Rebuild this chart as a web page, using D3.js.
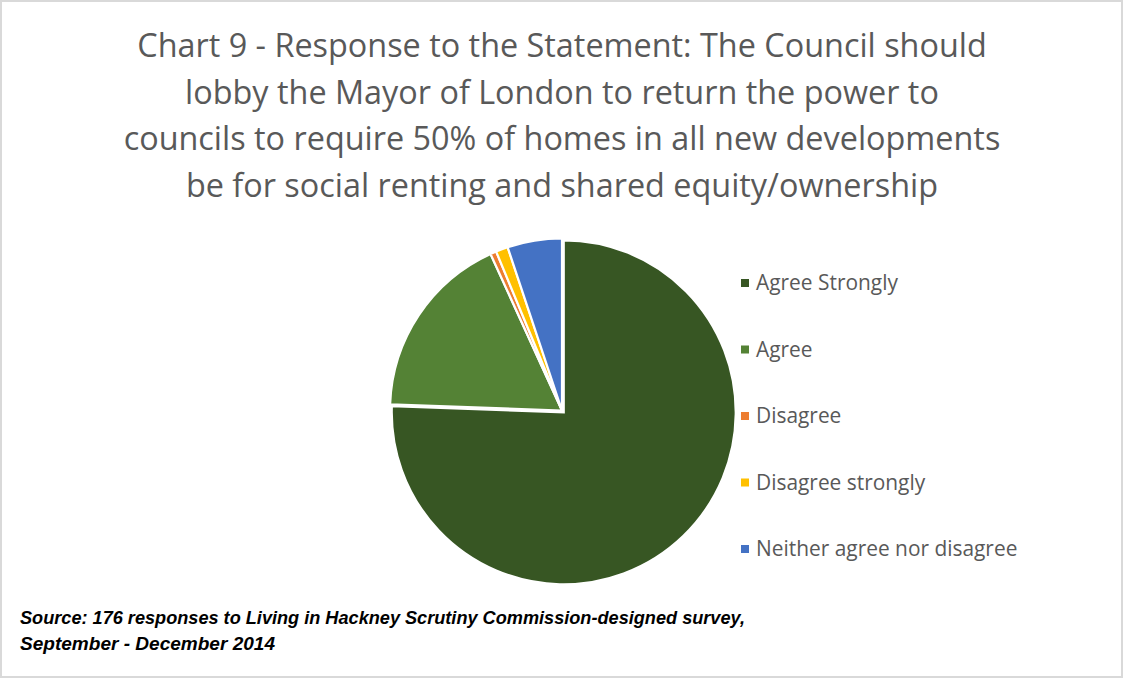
<!DOCTYPE html>
<html>
<head>
<meta charset="utf-8">
<script src="https://cdn.jsdelivr.net/npm/d3@7/dist/d3.min.js"></script>
<style>
  html, body { margin: 0; padding: 0; background: #fff; }
  svg { display: block; }
</style>
</head>
<body>
<svg id="chart" width="1123" height="678"></svg>
<script>
// Survey responses (count of 176)
const categories = ["Agree Strongly", "Agree", "Disagree", "Disagree strongly", "Neither agree nor disagree"];
const responses = [133, 31, 1, 2, 9];
const colours = ["#375623", "#548235", "#ED7D31", "#FFC000", "#4472C4"];

const titleLines = [
  "Chart 9 - Response to the Statement: The Council should",
  "lobby the Mayor of London to return the power to",
  "councils to require 50% of homes in all new developments",
  "be for social renting and shared equity/ownership"
];
const sourceLines = [
  "Source: 176 responses to Living in Hackney Scrutiny Commission-designed survey,",
  "September - December 2014"
];
const sourceWidths = [725, 255];

const W = 1123, H = 678;
const svg = d3.select("#chart");

// chart frame
svg.append("rect")
  .attr("x", 1).attr("y", 1).attr("width", W - 2).attr("height", H - 2)
  .attr("fill", "#fff").attr("stroke", "#D9D9D9").attr("stroke-width", 2);

// title
const titleFont = "Open Sans, sans-serif";
const title = svg.append("g");
title.selectAll("text").data(titleLines).join("text")
  .attr("x", 562)
  .attr("y", (d, i) => 57 + i * 46.7)
  .attr("text-anchor", "middle")
  .attr("fill", "#595959")
  .style("font-family", titleFont)
  .style("font-size", "28px")
  .text(d => d);
// scale the title so the widest line spans its intended width
{
  const n = title.selectAll("text").nodes();
  const w = n[2].getComputedTextLength();
  const fs = 28 * 877 / w;
  title.selectAll("text").style("font-size", fs + "px");
}

// pie
const cx = 562, cy = 410.5, R = 172;
const pie = d3.pie().sort(null).value(d => d)(responses);
const arc = d3.arc().innerRadius(0).outerRadius(R);
const explode = [2.5, 0, 0, 0, 0];

svg.append("g").attr("transform", `translate(${cx},${cy})`)
  .selectAll("path").data(pie).join("path")
  .attr("transform", (d, i) => {
    const a = (d.startAngle + d.endAngle) / 2;
    return `translate(${Math.sin(a) * explode[i]},${-Math.cos(a) * explode[i]})`;
  })
  .attr("d", arc)
  .attr("fill", (d, i) => colours[i])
  .attr("stroke", "#fff")
  .attr("stroke-width", 2.2)
  .attr("stroke-linejoin", "miter");

// legend
const legendY = d3.scalePoint().domain(categories).range([283, 549]);
const legend = svg.append("g");
const items = legend.selectAll("g").data(categories).join("g")
  .attr("transform", d => `translate(741,${legendY(d)})`);
items.append("rect")
  .attr("x", 0).attr("y", -4).attr("width", 8).attr("height", 8)
  .attr("fill", (d, i) => colours[i]);
items.append("text")
  .attr("x", 15).attr("y", 0).attr("dy", "0.35em")
  .attr("fill", "#595959")
  .style("font-family", titleFont)
  .style("font-size", "18px")
  .text(d => d);
{
  const n = items.selectAll("text").nodes();
  const w = n[0].getComputedTextLength();
  const fs = 18 * 142 / w;
  items.selectAll("text").style("font-size", fs + "px");
}

// source note
svg.append("g").selectAll("text").data(sourceLines).join("text")
  .attr("x", 20)
  .attr("y", (d, i) => 624 + i * 26)
  .attr("textLength", (d, i) => sourceWidths[i])
  .attr("lengthAdjust", "spacingAndGlyphs")
  .attr("fill", "#000")
  .style("font-family", "Liberation Sans Narrow, Liberation Sans, sans-serif")
  .style("font-weight", "bold")
  .style("font-style", "italic")
  .style("font-size", "17.5px")
  .text(d => d);
</script>
</body>
</html>
